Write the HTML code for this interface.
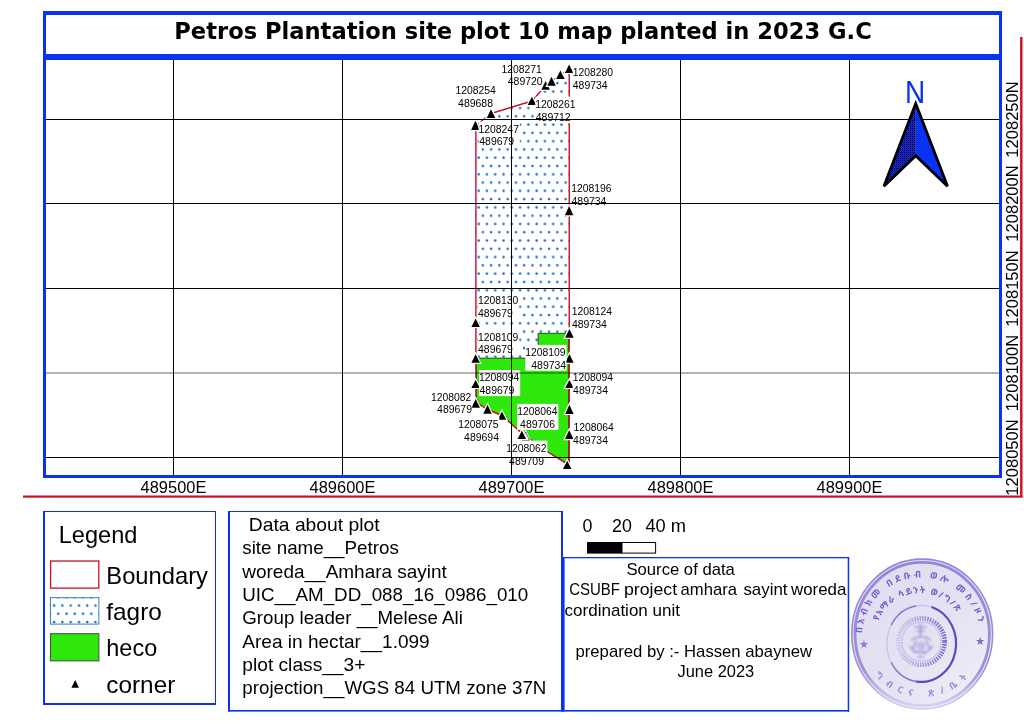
<!DOCTYPE html>
<html lang="en"><head><meta charset="utf-8"><title>Petros Plantation site plot 10 map</title>
<style>html,body{margin:0;padding:0;background:#fff;overflow:hidden}svg{display:block;will-change:transform}text{white-space:pre}</style>
</head><body>
<svg width="1024" height="724" viewBox="0 0 1024 724">
<defs>
<pattern id="dots" patternUnits="userSpaceOnUse" x="0.58" y="-1.62" width="8.28" height="16.56"><circle cx="2" cy="2" r="1.3" fill="#2272bc"/><circle cx="6.14" cy="10.28" r="1.3" fill="#2272bc"/></pattern>
<pattern id="dots2" patternUnits="userSpaceOnUse" x="2.42" y="7.34" width="8.28" height="16.56"><circle cx="2" cy="2" r="1.3" fill="#2272bc"/><circle cx="6.14" cy="10.28" r="1.3" fill="#2272bc"/></pattern>
<pattern id="stip" patternUnits="userSpaceOnUse" width="2" height="2"><rect width="2" height="2" fill="#0a32f5"/><rect width="1" height="1" fill="#000"/><rect x="1" y="1" width="1" height="1" fill="#000" opacity=".35"/></pattern>
<clipPath id="mapclip"><rect x="46" y="60" width="953" height="415"/></clipPath>
</defs>
<rect width="1024" height="724" fill="#fff"/>
<g clip-path="url(#mapclip)">
<polygon points="475.6,125.5 491,113.5 532,101 545.6,85.5 551.5,81.3 560.4,75 569.1,68.8 569.1,358 475.6,358" fill="url(#dots)"/>
<polygon points="476.4,358.1 538.1,358.1 538.1,333.3 568.6,333.3 568.6,461 565,462 547,451.5 522,433.5 502,415.5 487.5,409.5 479.5,404.5 476.4,398" fill="#2de80a" stroke="#0e2c0a" stroke-width="0.8" stroke-linejoin="miter"/>
<polyline points="569.25,462.5 569.25,68.8 560.4,75 551.5,81.3 545.6,85.5 532,101 491,113.5 475.9,125.5 475.9,398 479.5,404.5 487.5,409.5 502,415.5 522,433.5 547,451.5 565,462.6 569.25,462.5" fill="none" stroke="#cd0f23" stroke-width="1.4" stroke-linejoin="round"/>
<g fill="#000" stroke="#fff" stroke-width="2.4" stroke-linejoin="miter" paint-order="stroke">
<path d="M471.15 130.00L475.40 120.80L479.65 130.00Z"/>
<path d="M486.75 117.90L491.00 109.20L495.25 117.90Z"/>
<path d="M527.65 105.10L531.90 96.70L536.15 105.10Z"/>
<path d="M541.35 89.80L545.60 81.10L549.85 89.80Z"/>
<path d="M547.25 85.70L551.50 76.80L555.75 85.70Z"/>
<path d="M556.15 79.10L560.40 70.50L564.65 79.10Z"/>
<path d="M564.85 73.00L569.10 64.50L573.35 73.00Z"/>
<path d="M564.85 215.30L569.10 206.10L573.35 215.30Z"/>
<path d="M471.35 326.90L475.60 318.50L479.85 326.90Z"/>
<path d="M565.15 337.80L569.40 329.10L573.65 337.80Z"/>
<path d="M471.35 362.80L475.60 354.30L479.85 362.80Z"/>
<path d="M565.15 362.80L569.40 354.10L573.65 362.80Z"/>
<path d="M471.35 387.90L475.60 380.10L479.85 387.90Z"/>
<path d="M565.15 387.90L569.40 379.90L573.65 387.90Z"/>
<path d="M471.45 407.80L475.70 399.00L479.95 407.80Z"/>
<path d="M483.25 413.70L487.50 404.80L491.75 413.70Z"/>
<path d="M497.65 419.70L501.90 411.40L506.15 419.70Z"/>
<path d="M565.15 413.90L569.40 404.70L573.65 413.90Z"/>
<path d="M517.65 438.90L521.90 430.50L526.15 438.90Z"/>
<path d="M564.95 439.00L569.20 430.20L573.45 439.00Z"/>
<path d="M562.95 469.00L567.20 460.80L571.45 469.00Z"/>
</g>
<g fill="#fff">
<rect x="501.5" y="61.2" width="41.2" height="25.7"/>
<rect x="455.4" y="82.9" width="41.2" height="26.3"/>
<rect x="535.3" y="96.7" width="41.2" height="26.5"/>
<rect x="478.6" y="121.5" width="41.2" height="25.7"/>
<rect x="572.8" y="65.1" width="41.2" height="26.2"/>
<rect x="571.3" y="180.9" width="41.2" height="26.3"/>
<rect x="478.0" y="293.0" width="41.2" height="26.0"/>
<rect x="571.8" y="303.7" width="41.2" height="26.3"/>
<rect x="478.0" y="329.3" width="41.2" height="26.0"/>
<rect x="525.3" y="344.9" width="41.2" height="25.8"/>
<rect x="479.0" y="370.0" width="41.2" height="26.1"/>
<rect x="572.8" y="369.9" width="41.2" height="26.2"/>
<rect x="431.0" y="389.9" width="41.2" height="25.5"/>
<rect x="458.2" y="416.8" width="41.2" height="25.8"/>
<rect x="517.2" y="403.9" width="41.2" height="26.0"/>
<rect x="573.4" y="419.6" width="41.2" height="26.5"/>
<rect x="506.2" y="440.6" width="41.2" height="26.4"/>
</g>
<path d="M521.9 440.2L525.7 432L529.5 440.2Z" fill="#fff" stroke="#fff" stroke-width="2.4"/>
<path d="M521.9 440.2L525.7 432L529.5 440.2Z" fill="#fff" stroke="#000" stroke-width="0.6"/>
<g fill="#000" stroke="#fff" stroke-width="2.4" stroke-linejoin="miter" paint-order="stroke"><path d="M517.65 438.90L521.90 430.50L526.15 438.90Z"/></g>
<g font-size="10.0" font-family="'Liberation Sans', sans-serif" fill="#000">
<text x="501.5" y="72.5" textLength="40.3" lengthAdjust="spacingAndGlyphs">1208271</text>
<text x="507.8" y="84.9" textLength="34.9" lengthAdjust="spacingAndGlyphs">489720</text>
<text x="455.4" y="94.2" textLength="40.3" lengthAdjust="spacingAndGlyphs">1208254</text>
<text x="458.1" y="107.2" textLength="34.9" lengthAdjust="spacingAndGlyphs">489688</text>
<text x="535.3" y="108.0" textLength="40.3" lengthAdjust="spacingAndGlyphs">1208261</text>
<text x="535.8" y="121.2" textLength="34.9" lengthAdjust="spacingAndGlyphs">489712</text>
<text x="478.6" y="132.8" textLength="40.3" lengthAdjust="spacingAndGlyphs">1208247</text>
<text x="479.3" y="145.2" textLength="34.9" lengthAdjust="spacingAndGlyphs">489679</text>
<text x="572.8" y="76.4" textLength="40.3" lengthAdjust="spacingAndGlyphs">1208280</text>
<text x="572.8" y="89.3" textLength="34.9" lengthAdjust="spacingAndGlyphs">489734</text>
<text x="571.3" y="192.2" textLength="40.3" lengthAdjust="spacingAndGlyphs">1208196</text>
<text x="571.5" y="205.2" textLength="34.9" lengthAdjust="spacingAndGlyphs">489734</text>
<text x="478.0" y="304.3" textLength="40.3" lengthAdjust="spacingAndGlyphs">1208130</text>
<text x="477.9" y="317.0" textLength="34.9" lengthAdjust="spacingAndGlyphs">489679</text>
<text x="571.8" y="315.0" textLength="40.3" lengthAdjust="spacingAndGlyphs">1208124</text>
<text x="571.9" y="328.0" textLength="34.9" lengthAdjust="spacingAndGlyphs">489734</text>
<text x="478.0" y="340.6" textLength="40.3" lengthAdjust="spacingAndGlyphs">1208109</text>
<text x="478.0" y="353.3" textLength="34.9" lengthAdjust="spacingAndGlyphs">489679</text>
<text x="525.3" y="356.2" textLength="40.3" lengthAdjust="spacingAndGlyphs">1208109</text>
<text x="531.3" y="368.7" textLength="34.9" lengthAdjust="spacingAndGlyphs">489734</text>
<text x="479.0" y="381.3" textLength="40.3" lengthAdjust="spacingAndGlyphs">1208094</text>
<text x="479.5" y="394.1" textLength="34.9" lengthAdjust="spacingAndGlyphs">489679</text>
<text x="572.8" y="381.2" textLength="40.3" lengthAdjust="spacingAndGlyphs">1208094</text>
<text x="573.1" y="394.1" textLength="34.9" lengthAdjust="spacingAndGlyphs">489734</text>
<text x="431.0" y="401.2" textLength="40.3" lengthAdjust="spacingAndGlyphs">1208082</text>
<text x="437.1" y="413.4" textLength="34.9" lengthAdjust="spacingAndGlyphs">489679</text>
<text x="458.2" y="428.1" textLength="40.3" lengthAdjust="spacingAndGlyphs">1208075</text>
<text x="464.1" y="440.6" textLength="34.9" lengthAdjust="spacingAndGlyphs">489694</text>
<text x="517.2" y="415.2" textLength="40.3" lengthAdjust="spacingAndGlyphs">1208064</text>
<text x="520.1" y="427.9" textLength="34.9" lengthAdjust="spacingAndGlyphs">489706</text>
<text x="573.4" y="430.9" textLength="40.3" lengthAdjust="spacingAndGlyphs">1208064</text>
<text x="573.1" y="444.1" textLength="34.9" lengthAdjust="spacingAndGlyphs">489734</text>
<text x="506.2" y="451.9" textLength="40.3" lengthAdjust="spacingAndGlyphs">1208062</text>
<text x="509.1" y="465.0" textLength="34.9" lengthAdjust="spacingAndGlyphs">489709</text>
</g>
<g fill="#000" shape-rendering="crispEdges">
<rect x="173" y="60" width="1" height="415"/>
<rect x="342" y="60" width="1" height="415"/>
<rect x="511" y="60" width="1" height="415"/>
<rect x="680" y="60" width="1" height="415"/>
<rect x="849" y="60" width="1" height="415"/>
<rect x="46" y="119" width="953" height="1"/>
<rect x="46" y="203" width="953" height="1"/>
<rect x="46" y="288" width="953" height="1"/>
<rect x="46" y="457" width="953" height="1"/>
</g>
<rect x="46" y="372" width="953" height="2" fill="#000" opacity="0.3"/>
</g>
<text x="915.2" y="102.9" font-size="30.8" font-family="'Liberation Sans', sans-serif" fill="#0a32f5" text-anchor="middle" textLength="20.2" lengthAdjust="spacingAndGlyphs">N</text>
<path d="M915.7 103.6L883.9 186.2L915.7 155.8Z" fill="url(#stip)"/>
<path d="M915.7 103.6L947.5 186.2L915.7 155.8Z" fill="#0a32f5"/>
<path d="M915.7 108L915.7 155" stroke="#000" stroke-width="0.6" opacity=".6"/>
<path d="M915.7 103.6L947.5 186.2L915.7 155.8L883.9 186.2Z" fill="none" stroke="#000" stroke-width="2.8" stroke-linejoin="miter" stroke-miterlimit="4"/>
<g fill="#0a32f5">
<rect x="43" y="11" width="959" height="4"/>
<rect x="43" y="54" width="959" height="6"/>
<rect x="43" y="475" width="959" height="3"/>
<rect x="43" y="11" width="3" height="467"/>
<rect x="999" y="11" width="3" height="467"/>
<rect x="43" y="511" width="2" height="194"/>
<rect x="43" y="511" width="173" height="1"/>
<rect x="215" y="511" width="1" height="194"/>
<rect x="43" y="703" width="173" height="2"/>
<rect x="228" y="511" width="2" height="200.6"/>
<rect x="228" y="511" width="335" height="1"/>
<rect x="561" y="511" width="2" height="200.6"/>
<rect x="228" y="710" width="621.2" height="1.6"/>
<rect x="563" y="557" width="1.6" height="154.6"/>
<rect x="563" y="557" width="286.2" height="1.3"/>
<rect x="847.7" y="557" width="1.5" height="154.6"/>
</g>
<text x="174.3" y="38.9" font-size="22.6" font-family="'DejaVu Sans', 'Liberation Sans', sans-serif" font-weight="bold" text-anchor="start" fill="#000" textLength="697.5" lengthAdjust="spacingAndGlyphs">Petros Plantation site plot 10 map planted in 2023 G.C</text>
<rect x="23" y="495.5" width="999.5" height="2.2" fill="#cd0f23"/>
<rect x="1020.1" y="37" width="2.4" height="460" fill="#cd0f23"/>
<text x="173.5" y="493.4" font-size="16.4" font-family="'Liberation Sans', sans-serif" font-weight="normal" text-anchor="middle" fill="#000" textLength="65.8" lengthAdjust="spacingAndGlyphs">489500E</text>
<text x="342.5" y="493.4" font-size="16.4" font-family="'Liberation Sans', sans-serif" font-weight="normal" text-anchor="middle" fill="#000" textLength="65.8" lengthAdjust="spacingAndGlyphs">489600E</text>
<text x="511.5" y="493.4" font-size="16.4" font-family="'Liberation Sans', sans-serif" font-weight="normal" text-anchor="middle" fill="#000" textLength="65.8" lengthAdjust="spacingAndGlyphs">489700E</text>
<text x="680.5" y="493.4" font-size="16.4" font-family="'Liberation Sans', sans-serif" font-weight="normal" text-anchor="middle" fill="#000" textLength="65.8" lengthAdjust="spacingAndGlyphs">489800E</text>
<text x="849.5" y="493.4" font-size="16.4" font-family="'Liberation Sans', sans-serif" font-weight="normal" text-anchor="middle" fill="#000" textLength="65.8" lengthAdjust="spacingAndGlyphs">489900E</text>
<text transform="translate(1017.7 119.5) rotate(-90)" x="0" y="0" font-size="16.6" font-family="'Liberation Sans', sans-serif" text-anchor="middle" textLength="76.3" lengthAdjust="spacingAndGlyphs">1208250N</text>
<text transform="translate(1017.7 203.5) rotate(-90)" x="0" y="0" font-size="16.6" font-family="'Liberation Sans', sans-serif" text-anchor="middle" textLength="76.3" lengthAdjust="spacingAndGlyphs">1208200N</text>
<text transform="translate(1017.7 288.5) rotate(-90)" x="0" y="0" font-size="16.6" font-family="'Liberation Sans', sans-serif" text-anchor="middle" textLength="76.3" lengthAdjust="spacingAndGlyphs">1208150N</text>
<text transform="translate(1017.7 373) rotate(-90)" x="0" y="0" font-size="16.6" font-family="'Liberation Sans', sans-serif" text-anchor="middle" textLength="76.3" lengthAdjust="spacingAndGlyphs">1208100N</text>
<text transform="translate(1017.7 457.5) rotate(-90)" x="0" y="0" font-size="16.6" font-family="'Liberation Sans', sans-serif" text-anchor="middle" textLength="76.3" lengthAdjust="spacingAndGlyphs">1208050N</text>
<text x="58.7" y="543.3" font-size="23.6" font-family="'Liberation Sans', sans-serif" font-weight="normal" text-anchor="start" fill="#000">Legend</text>
<rect x="50.6" y="561" width="48.2" height="27.1" fill="#fff" stroke="#cd0f23" stroke-width="1.3"/>
<rect x="50.4" y="597.7" width="48.5" height="26.4" fill="url(#dots2)" stroke="#2272bc" stroke-width="0.9"/>
<rect x="50.4" y="633.7" width="48.5" height="27.2" fill="#2de80a" stroke="#3a3a3a" stroke-width="0.9"/>
<path d="M71.4 687.8L75.2 680L79 687.8Z" fill="#000"/>
<text x="106.3" y="583.7" font-size="23.6" font-family="'Liberation Sans', sans-serif" font-weight="normal" text-anchor="start" fill="#000" textLength="101.6" lengthAdjust="spacingAndGlyphs">Boundary</text>
<text x="106.3" y="620.2" font-size="23.6" font-family="'Liberation Sans', sans-serif" font-weight="normal" text-anchor="start" fill="#000" textLength="55.5" lengthAdjust="spacingAndGlyphs">fagro</text>
<text x="106.3" y="656.3" font-size="23.6" font-family="'Liberation Sans', sans-serif" font-weight="normal" text-anchor="start" fill="#000" textLength="50.9" lengthAdjust="spacingAndGlyphs">heco</text>
<text x="106.3" y="692.8" font-size="23.6" font-family="'Liberation Sans', sans-serif" font-weight="normal" text-anchor="start" fill="#000" textLength="69" lengthAdjust="spacingAndGlyphs">corner</text>
<text x="248.8" y="531.1" font-size="18.6" font-family="'Liberation Sans', sans-serif" font-weight="normal" text-anchor="start" fill="#000" textLength="130.8" lengthAdjust="spacingAndGlyphs">Data about plot</text>
<text x="242.3" y="554.4" font-size="18.6" font-family="'Liberation Sans', sans-serif" font-weight="normal" text-anchor="start" fill="#000" textLength="156.5" lengthAdjust="spacingAndGlyphs">site name__Petros</text>
<text x="242.3" y="577.8" font-size="18.6" font-family="'Liberation Sans', sans-serif" font-weight="normal" text-anchor="start" fill="#000" textLength="204.6" lengthAdjust="spacingAndGlyphs">woreda__Amhara sayint</text>
<text x="242.3" y="601.1" font-size="18.6" font-family="'Liberation Sans', sans-serif" font-weight="normal" text-anchor="start" fill="#000" textLength="285.9" lengthAdjust="spacingAndGlyphs">UIC__AM_DD_088_16_0986_010</text>
<text x="242.3" y="624.4" font-size="18.6" font-family="'Liberation Sans', sans-serif" font-weight="normal" text-anchor="start" fill="#000" textLength="220.5" lengthAdjust="spacingAndGlyphs">Group leader __Melese Ali</text>
<text x="242.3" y="647.8" font-size="18.6" font-family="'Liberation Sans', sans-serif" font-weight="normal" text-anchor="start" fill="#000" textLength="187.4" lengthAdjust="spacingAndGlyphs">Area in hectar__1.099</text>
<text x="242.3" y="671.1" font-size="18.6" font-family="'Liberation Sans', sans-serif" font-weight="normal" text-anchor="start" fill="#000" textLength="123.1" lengthAdjust="spacingAndGlyphs">plot class__3+</text>
<text x="242.3" y="694.4" font-size="18.6" font-family="'Liberation Sans', sans-serif" font-weight="normal" text-anchor="start" fill="#000" textLength="304.1" lengthAdjust="spacingAndGlyphs">projection__WGS 84 UTM zone 37N</text>
<text x="582.6" y="531.6" font-size="18.6" font-family="'Liberation Sans', sans-serif" font-weight="normal" text-anchor="start" fill="#000" textLength="9.9" lengthAdjust="spacingAndGlyphs">0</text>
<text x="612.0" y="531.6" font-size="18.6" font-family="'Liberation Sans', sans-serif" font-weight="normal" text-anchor="start" fill="#000" textLength="19.8" lengthAdjust="spacingAndGlyphs">20</text>
<text x="645.4" y="531.6" font-size="18.6" font-family="'Liberation Sans', sans-serif" font-weight="normal" text-anchor="start" fill="#000" textLength="40.6" lengthAdjust="spacingAndGlyphs">40 m</text>
<rect x="587" y="542" width="35" height="11.6" fill="#000"/>
<rect x="622" y="542.5" width="33.6" height="10.6" fill="#fff" stroke="#000" stroke-width="1"/>
<text x="626.5" y="575.2" font-size="16.4" font-family="'Liberation Sans', sans-serif" font-weight="normal" text-anchor="start" fill="#000" textLength="108.3" lengthAdjust="spacingAndGlyphs">Source of data</text>
<text y="595.3" font-size="16.4" font-family="'Liberation Sans', sans-serif" fill="#000"><tspan x="569.3" textLength="50.6" lengthAdjust="spacingAndGlyphs">CSUBF</tspan> <tspan x="623.9" textLength="53.2" lengthAdjust="spacingAndGlyphs">project</tspan> <tspan x="680.6" textLength="56.5" lengthAdjust="spacingAndGlyphs">amhara</tspan> <tspan x="743.4" textLength="44.1" lengthAdjust="spacingAndGlyphs">sayint</tspan> <tspan x="791.0" textLength="55.4" lengthAdjust="spacingAndGlyphs">woreda</tspan></text>
<text x="564.6" y="616.0" font-size="16.4" font-family="'Liberation Sans', sans-serif" font-weight="normal" text-anchor="start" fill="#000" textLength="115.4" lengthAdjust="spacingAndGlyphs">cordination unit</text>
<text x="575.5" y="656.8" font-size="16.4" font-family="'Liberation Sans', sans-serif" font-weight="normal" text-anchor="start" fill="#000" textLength="236.6" lengthAdjust="spacingAndGlyphs">prepared by :- Hassen abaynew</text>
<text x="677.5" y="676.9" font-size="16.4" font-family="'Liberation Sans', sans-serif" font-weight="normal" text-anchor="start" fill="#000" textLength="76.7" lengthAdjust="spacingAndGlyphs">June 2023</text>
<defs>
<linearGradient id="stbg" x1="0" y1="0" x2="1" y2="1"><stop offset="0" stop-color="#dedcf0"/><stop offset=".55" stop-color="#e4e3f2"/><stop offset="1" stop-color="#f1f1f9"/></linearGradient>
<linearGradient id="strg" x1="0" y1="0" x2="0" y2="1"><stop offset="0" stop-color="#9785d8"/><stop offset=".75" stop-color="#a091dc"/><stop offset="1" stop-color="#d5cff0"/></linearGradient>
<linearGradient id="inrg" x1="0" y1="0" x2="1" y2="0"><stop offset="0" stop-color="#b3a6e2"/><stop offset=".5" stop-color="#8a72d2"/><stop offset="1" stop-color="#6a4cc4"/></linearGradient>
<filter id="soft" x="-5%" y="-5%" width="110%" height="110%"><feGaussianBlur stdDeviation="0.45"/></filter>
<filter id="soft2" x="-20%" y="-20%" width="140%" height="140%"><feGaussianBlur stdDeviation="0.9"/></filter>
<path id="arcTop" d="M862.1 633.3A59 59 0 0 1 978.9 625.1"/>
<path id="arcMid" d="M878.3 621.1A45 45 0 0 1 958.2 614.2"/>
<path id="arcBot" d="M874.7 675.3A63 63 0 0 0 970.5 674.5"/>
</defs>
<g id="stamp" filter="url(#soft)">
<ellipse cx="922.2" cy="634" rx="71.3" ry="75.8" fill="url(#stbg)"/>
<ellipse cx="922.2" cy="634" rx="70.4" ry="74.9" fill="none" stroke="url(#strg)" stroke-width="1.6"/>
<ellipse cx="922.2" cy="634" rx="67.2" ry="71.6" fill="none" stroke="url(#strg)" stroke-width="2.9"/>
<g font-family="'Noto Sans Ethiopic', 'Noto Serif Ethiopic', 'Abyssinica SIL', 'Nyala', 'DejaVu Sans', sans-serif" fill="#7860cd" font-weight="bold">
<text font-size="9.2"><textPath href="#arcTop" textLength="168" lengthAdjust="spacing">በአብክመ በደቡብ ወሎ መስ/ዞን</textPath></text>
<text font-size="8.8" fill="#7358c8"><textPath href="#arcMid" textLength="96" lengthAdjust="spacing">የአማራ ሳይንት ወ/ግ/ጽ</textPath></text>
<text font-size="9.2" fill="#9a88d8"><textPath href="#arcBot" textLength="104" lengthAdjust="spacing">ግብርና ጽ/ቤት</textPath></text>
</g>
<g font-family="'DejaVu Sans', sans-serif" font-size="11" fill="#8d78d4" text-anchor="middle"><text x="864" y="647.5">★</text><text x="980.1" y="644.8" fill="#8069cf">★</text></g>
<ellipse cx="921.5" cy="643.7" rx="34.8" ry="38.3" fill="none" stroke="#c3b9ea" stroke-width="1"/>
<path d="M932.3 607.3A34.8 38.3 0 0 1 916.7 681.6" fill="none" stroke="#6246c2" stroke-width="2.2" stroke-linecap="round"/>
<path d="M916.7 681.6A34.8 38.3 0 0 1 891.4 662.9" fill="none" stroke="#8b77d3" stroke-width="1.5" stroke-linecap="round"/>
<path d="M891.4 624.6A34.8 38.3 0 0 1 915.5 606.0" fill="none" stroke="#8b77d3" stroke-width="1.5" stroke-linecap="round"/>
<linearGradient id="cogg" gradientUnits="userSpaceOnUse" x1="896" y1="0" x2="948" y2="0"><stop offset="0" stop-color="#cfc7ee"/><stop offset=".5" stop-color="#a897df"/><stop offset="1" stop-color="#775ecb"/></linearGradient>
<circle cx="921.5" cy="641.6" r="23.2" fill="none" stroke="url(#cogg)" stroke-width="4.6" stroke-dasharray="1.5 1.1"/>
<circle cx="921.5" cy="641.6" r="19.6" fill="none" stroke="#b4a8e3" stroke-width="0.8"/>
<g filter="url(#soft2)" fill="none" stroke="#9482d6" stroke-width="1.6" stroke-linecap="round" opacity=".8"><path d="M915 627h11M917 631l7 0M920.5 624v12M912 640c3-4 15-4 18 0M910 646c2 8 19 9 22 0M914 652l12 1M916 641l-3 8M926 641l4 8M919 644h4M918 657l6 0"/><circle cx="921" cy="646" r="4.5" fill="#bdb2e8" stroke="none"/></g>
</g>
</svg></body></html>
